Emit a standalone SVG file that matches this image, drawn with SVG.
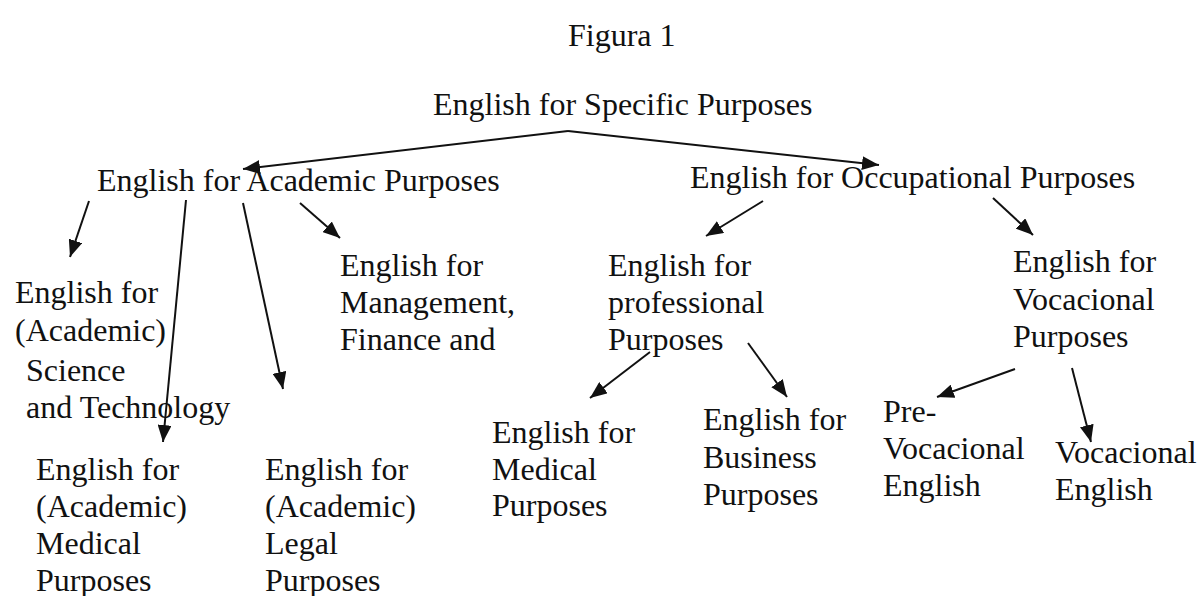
<svg xmlns="http://www.w3.org/2000/svg" width="1202" height="596" viewBox="0 0 1202 596">
<style>
text{font-family:"Liberation Serif","Times New Roman",serif;font-size:32px;fill:#111}
.c line,.c polyline{stroke:#111;stroke-width:2;fill:none}
</style>
<defs>
<marker id="ah" markerUnits="userSpaceOnUse" markerWidth="18" markerHeight="14" refX="17" refY="7" orient="auto">
<path d="M0,0 L17,7 L0,14 z" fill="#111"/>
</marker>
</defs>
<rect width="1202" height="596" fill="#fff"/>
<text x="568" y="46">Figura 1</text>
<g id="esp"><text x="433" y="115">English for Specific Purposes</text></g>
<g id="eap"><text x="97" y="191">English for Academic Purposes</text></g>
<g id="eop"><text x="690" y="188">English for Occupational Purposes</text></g>
<g id="est"><text x="15" y="303">English for</text><text x="15" y="341">(Academic)</text><text x="26" y="381">Science</text><text x="26" y="418">and Technology</text></g>
<g id="eamp"><text x="36" y="480">English for</text><text x="36" y="517">(Academic)</text><text x="36" y="554">Medical</text><text x="36" y="591">Purposes</text></g>
<g id="ealp"><text x="265" y="480">English for</text><text x="265" y="517">(Academic)</text><text x="265" y="554">Legal</text><text x="265" y="591">Purposes</text></g>
<g id="emf"><text x="340" y="276">English for</text><text x="340" y="313">Management,</text><text x="340" y="350">Finance and</text></g>
<g id="epp"><text x="608" y="276">English for</text><text x="608" y="313">professional</text><text x="608" y="350">Purposes</text></g>
<g id="evp"><text x="1013" y="272">English for</text><text x="1013" y="310">Vocacional</text><text x="1013" y="347">Purposes</text></g>
<g id="emp"><text x="492" y="443">English for</text><text x="492" y="480">Medical</text><text x="492" y="516">Purposes</text></g>
<g id="ebp"><text x="703" y="430">English for</text><text x="703" y="468">Business</text><text x="703" y="505">Purposes</text></g>
<g id="pve"><text x="883" y="422">Pre-</text><text x="883" y="459">Vocacional</text><text x="883" y="496">English</text></g>
<g id="ve"><text x="1055" y="463">Vocacional</text><text x="1055" y="500">English</text></g>
<g id="connectors" class="c">
<line x1="568" y1="131" x2="243" y2="169" marker-end="url(#ah)"/>
<line x1="568" y1="131" x2="879" y2="165" marker-end="url(#ah)"/>
<line x1="89" y1="201" x2="70" y2="257" marker-end="url(#ah)"/>
<line x1="186" y1="200" x2="163" y2="442" marker-end="url(#ah)"/>
<line x1="243" y1="203" x2="283" y2="389" marker-end="url(#ah)"/>
<line x1="300" y1="203" x2="340" y2="238" marker-end="url(#ah)"/>
<line x1="763" y1="201" x2="706" y2="236" marker-end="url(#ah)"/>
<line x1="993" y1="198" x2="1033" y2="235" marker-end="url(#ah)"/>
<line x1="650" y1="352" x2="590" y2="398" marker-end="url(#ah)"/>
<line x1="748" y1="343" x2="787" y2="397" marker-end="url(#ah)"/>
<line x1="1015" y1="369" x2="937" y2="397" marker-end="url(#ah)"/>
<line x1="1072" y1="368" x2="1091" y2="442" marker-end="url(#ah)"/>
</g>
</svg>
